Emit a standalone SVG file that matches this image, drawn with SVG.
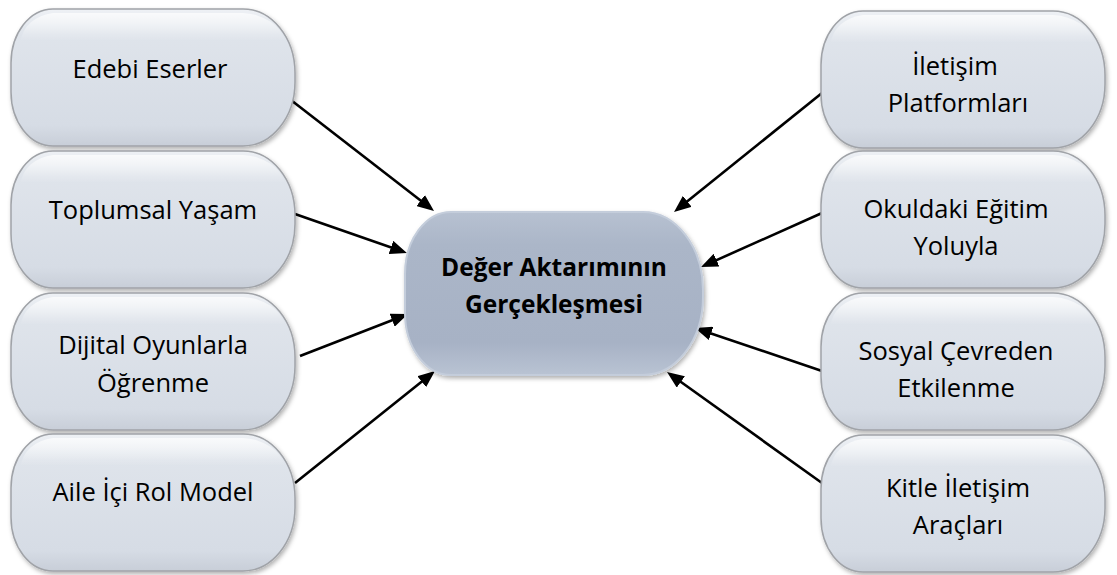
<svg xmlns="http://www.w3.org/2000/svg" xmlns:xlink="http://www.w3.org/1999/xlink" width="1117" height="575" viewBox="0 0 1117 575">
<style>
.box{fill:url(#gNode);stroke:#a0a3a8;stroke-width:1.5;filter:url(#sh)}
.hl{fill:url(#gHi);stroke:none}
.cbox{fill:url(#gCenter);stroke:#c4cddb;stroke-width:2;filter:url(#sh)}
.t{font-family:"Open Sans","Noto Sans","DejaVu Sans",sans-serif;font-size:25.5px;fill:#000;text-anchor:middle}
.tb{font-family:"Open Sans","Noto Sans","DejaVu Sans",sans-serif;font-size:24.5px;font-weight:bold;fill:#000;text-anchor:middle}
.c{stroke:#000;stroke-width:2.6;fill:none;marker-end:url(#ah)}
</style>
<defs>
<linearGradient id="gNode" x1="0" y1="0" x2="0" y2="1">
<stop offset="0" stop-color="#eef1f5"/>
<stop offset="0.18" stop-color="#dfe4eb"/>
<stop offset="0.85" stop-color="#d6dce5"/>
<stop offset="1" stop-color="#c8ced8"/>
</linearGradient>
<linearGradient id="gHi" x1="0" y1="0" x2="0" y2="1">
<stop offset="0" stop-color="#ffffff" stop-opacity="0.7"/>
<stop offset="1" stop-color="#ffffff" stop-opacity="0"/>
</linearGradient>
<linearGradient id="gCenter" x1="0" y1="0" x2="0" y2="1">
<stop offset="0" stop-color="#b7c1d1"/>
<stop offset="0.2" stop-color="#abb6c8"/>
<stop offset="0.8" stop-color="#a7b2c5"/>
<stop offset="1" stop-color="#b9c3d3"/>
</linearGradient>
<filter id="sh" x="-10%" y="-10%" width="125%" height="130%">
<feDropShadow dx="1.5" dy="2.5" stdDeviation="2" flood-color="#000" flood-opacity="0.3"/>
</filter>
<path id="pill" d="M42,0 H232 A52 64 0 0 1 284,64 V73 A52 64 0 0 1 232,137 H42 A42 54 0 0 1 0,83 V54 A42 54 0 0 1 42,0 Z"/>
<path id="pillHi" d="M42,4 H232 A46 34 0 0 1 274,32 H10 A38 30 0 0 1 42,4 Z"/>
<path id="cpill" d="M46,0 H238 A60 78 0 0 1 298,78 V85 A60 78 0 0 1 238,163 H46 A46 62 0 0 1 0,101 V62 A46 62 0 0 1 46,0 Z"/>
<marker id="ah" viewBox="0 0 17 14" refX="11" refY="7" markerWidth="17" markerHeight="14" markerUnits="userSpaceOnUse" orient="auto">
<path d="M0,0 L17,7 L0,14 Z" fill="#000"/>
</marker>
</defs>
<rect width="1117" height="575" fill="#fff"/>

<g id="connectors">
<line class="c" x1="287" y1="97" x2="429.3" y2="207.3"/>
<line class="c" x1="295" y1="214" x2="401.3" y2="251"/>
<line class="c" x1="300" y1="356" x2="402.4" y2="316.2"/>
<line class="c" x1="295" y1="483" x2="430.3" y2="374.8"/>
<line class="c" x1="822" y1="93" x2="678.7" y2="208.2"/>
<line class="c" x1="822" y1="213" x2="706.5" y2="264.6"/>
<line class="c" x1="822" y1="371" x2="700.7" y2="329.9"/>
<line class="c" x1="822" y1="483" x2="671.9" y2="375.5"/>
</g>

<g id="n-edebi">
<use xlink:href="#pill" class="box" transform="translate(11,9)"/>
<use xlink:href="#pillHi" class="hl" transform="translate(11,9)"/>
<text class="t" x="150" y="78">Edebi Eserler</text>
</g>
<g id="n-toplumsal">
<use xlink:href="#pill" class="box" transform="translate(11,151)"/>
<use xlink:href="#pillHi" class="hl" transform="translate(11,151)"/>
<text class="t" x="153" y="219">Toplumsal Yaşam</text>
</g>
<g id="n-dijital">
<use xlink:href="#pill" class="box" transform="translate(11,293)"/>
<use xlink:href="#pillHi" class="hl" transform="translate(11,293)"/>
<text class="t" x="153" y="354">Dijital Oyunlarla</text>
<text class="t" x="153" y="392">Öğrenme</text>
</g>
<g id="n-aile">
<use xlink:href="#pill" class="box" transform="translate(11,434)"/>
<use xlink:href="#pillHi" class="hl" transform="translate(11,434)"/>
<text class="t" x="153" y="501">Aile İçi Rol Model</text>
</g>

<g id="n-iletisim">
<use xlink:href="#pill" class="box" transform="translate(821,11)"/>
<use xlink:href="#pillHi" class="hl" transform="translate(821,11)"/>
<text class="t" x="955" y="75">İletişim</text>
<text class="t" x="958" y="112">Platformları</text>
</g>
<g id="n-okuldaki">
<use xlink:href="#pill" class="box" transform="translate(821,151)"/>
<use xlink:href="#pillHi" class="hl" transform="translate(821,151)"/>
<text class="t" x="956" y="218">Okuldaki Eğitim</text>
<text class="t" x="956" y="255">Yoluyla</text>
</g>
<g id="n-sosyal">
<use xlink:href="#pill" class="box" transform="translate(821,293)"/>
<use xlink:href="#pillHi" class="hl" transform="translate(821,293)"/>
<text class="t" x="956" y="360">Sosyal Çevreden</text>
<text class="t" x="956" y="397">Etkilenme</text>
</g>
<g id="n-kitle">
<use xlink:href="#pill" class="box" transform="translate(821,435)"/>
<use xlink:href="#pillHi" class="hl" transform="translate(821,435)"/>
<text class="t" x="958" y="497">Kitle İletişim</text>
<text class="t" x="958" y="534">Araçları</text>
</g>

<g id="n-center">
<use xlink:href="#cpill" class="cbox" transform="translate(405,212)"/>
<text class="tb" x="554" y="276">Değer Aktarımının</text>
<text class="tb" x="554" y="313">Gerçekleşmesi</text>
</g>
</svg>
